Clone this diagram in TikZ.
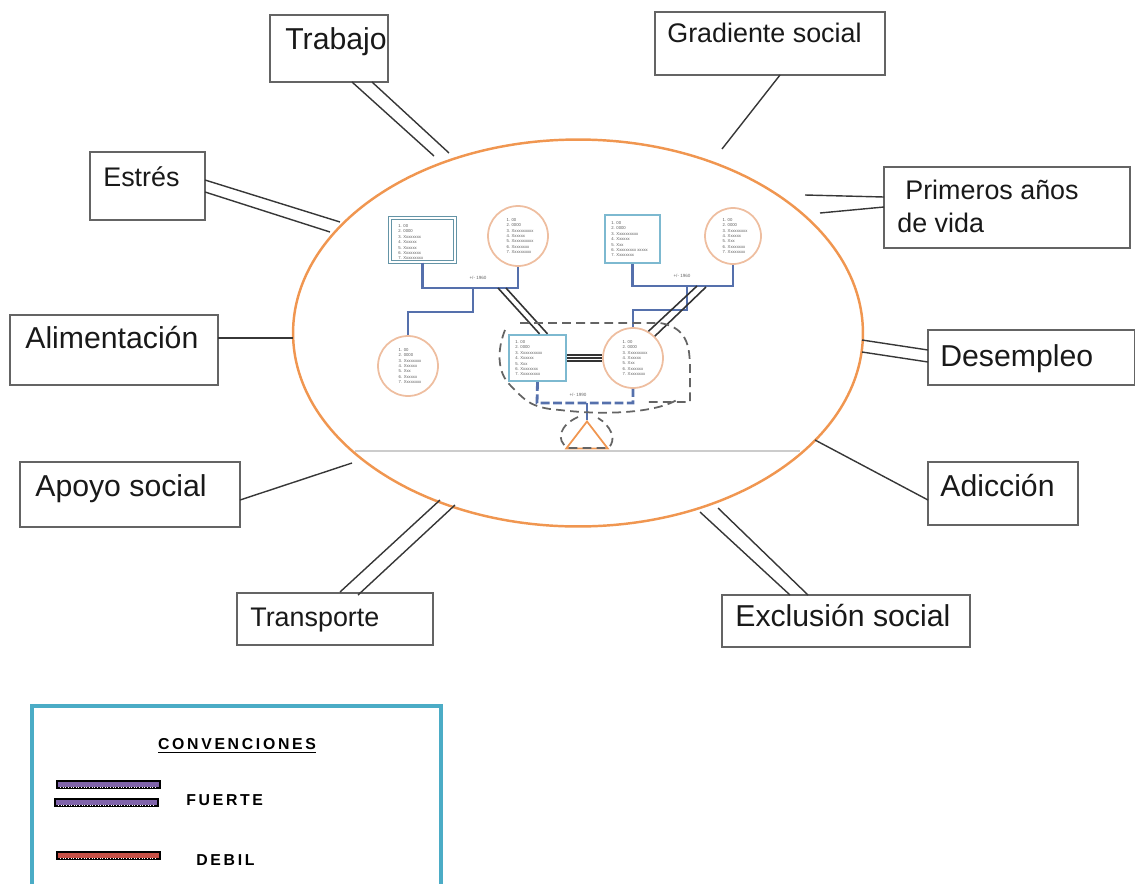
\documentclass[tikz,border=0pt]{standalone}
\usepackage{fontspec}
\setmainfont{Liberation Sans}
\usetikzlibrary{shapes.geometric,fit,calc}
\definecolor{orangeE}{RGB}{240,150,80}
\definecolor{peach}{RGB}{238,190,160}
\definecolor{tealb}{RGB}{125,185,208}
\definecolor{gblue}{RGB}{85,112,172}
\definecolor{lcol}{RGB}{55,55,55}
\definecolor{legb}{RGB}{75,172,198}
\definecolor{purp}{RGB}{128,100,170}
\definecolor{redb}{RGB}{200,80,70}
\definecolor{dgray}{RGB}{100,100,100}
\begin{document}
\begin{tikzpicture}[x=0.02cm,y=-0.02cm,
  box/.style={draw=dgray,line width=0.8pt,inner sep=0pt},
  big/.style={font=\fontsize{17.2}{20}\selectfont,inner sep=0pt,anchor=base west,text=black!90},
  med/.style={font=\fontsize{15.3}{18}\selectfont,inner sep=0pt,anchor=base west,text=black!90},
  conn/.style={draw=lcol,line width=0.8pt},
  pers/.style={circle,draw=peach,line width=1pt,minimum size=1.2cm,inner sep=0pt},
  sq/.style={draw=tealb,line width=1.3pt,inner sep=0pt},
  lst/.style={font=\fontsize{2.4}{3.1}\selectfont,align=left,text=black!65,inner sep=0pt},
  gl/.style={draw=gblue,line width=1.2pt},
  rel/.style={draw=black!80,line width=0.9pt},
  dsh/.style={draw=dgray,line width=1pt,dash pattern=on 5pt off 3pt},
  tiny/.style={font=\fontsize{2.6}{3}\selectfont,text=black!60,inner sep=0pt},
  leg/.style={font=\fontsize{9}{11}\selectfont\bfseries\addfontfeature{LetterSpace=17},inner sep=0pt}
]
\useasboundingbox (0,0) rectangle (1135,883);

% ---------------- outer boxes ----------------
\node[box,fit={(270,15)(388,82)}] (trab) {};
\node[big] (trabT) at (285,49) {Trabajo};
\node[box,fit={(655,12)(885,75)}] (grad) {};
\node[med] (gradT) at (667,42) {Gradiente social};
\node[box,fit={(90,152)(205,220)}] (estr) {};
\node[med] (estrT) at (103,186) {Estrés};
\node[box,fit={(884,167)(1130,248)}] (prim) {};
\node[med] (primT) at (905,199) {Primeros años};
\node[med] (primT2) at (897,232) {de vida};
\node[box,fit={(10,315)(218,385)}] (alim) {};
\node[big] (alimT) at (25,348) {Alimentación};
\node[box,fit={(928,330)(1135,385)}] (dese) {};
\node[big] (deseT) at (940,366) {Desempleo};
\node[box,fit={(20,462)(240,527)}] (apoy) {};
\node[big] (apoyT) at (35,496) {Apoyo social};
\node[box,fit={(928,462)(1078,525)}] (adic) {};
\node[big] (adicT) at (940,496) {Adicción};
\node[box,fit={(237,593)(433,645)}] (tran) {};
\node[med] (tranT) at (250,626) {Transporte};
\node[box,fit={(722,595)(970,647)}] (excl) {};
\node[big] (exclT) at (735,626) {Exclusión social};

% ---------------- ellipse ----------------
\node[ellipse,draw=orangeE,line width=1.4pt,minimum width=11.4cm,minimum height=7.74cm,inner sep=0pt] (E) at (578,333) {};
\draw[draw=black!20,line width=0.6pt] (355,451) -- (800,451);

% ---------------- connectors ----------------
\coordinate (ta1) at (352,82); \coordinate (tb1) at (434,156);
\coordinate (ta2) at (372,82); \coordinate (tb2) at (449,153);
\draw[conn] (ta1) -- (tb1); \draw[conn] (ta2) -- (tb2);
\coordinate (ga) at (780,75); \coordinate (gb) at (722,149);
\draw[conn] (ga) -- (gb);
\coordinate (ea1) at (205,180); \coordinate (eb1) at (340,222);
\coordinate (ea2) at (205,192); \coordinate (eb2) at (330,232);
\draw[conn] (ea1) -- (eb1); \draw[conn] (ea2) -- (eb2);
\coordinate (pa1) at (884,197); \coordinate (pb1) at (805,195);
\coordinate (pa2) at (884,207); \coordinate (pb2) at (820,213);
\draw[conn] (pa1) -- (pb1); \draw[conn] (pa2) -- (pb2);
\coordinate (aa) at (218,338); \coordinate (ab) at (293,338);
\draw[conn] (aa) -- (ab);
\coordinate (da1) at (928,350); \coordinate (db1) at (862,340);
\coordinate (da2) at (928,362); \coordinate (db2) at (862,352);
\draw[conn] (da1) -- (db1); \draw[conn] (da2) -- (db2);
\coordinate (sa) at (240,500); \coordinate (sb) at (352,463);
\draw[conn] (sa) -- (sb);
\coordinate (ca) at (928,500); \coordinate (cb) at (815,440);
\draw[conn] (ca) -- (cb);
\coordinate (ra1) at (340,592); \coordinate (rb1) at (440,500);
\coordinate (ra2) at (358,595); \coordinate (rb2) at (455,505);
\draw[conn] (ra1) -- (rb1); \draw[conn] (ra2) -- (rb2);
\coordinate (xa1) at (790,595); \coordinate (xb1) at (700,512);
\coordinate (xa2) at (808,595); \coordinate (xb2) at (718,508);
\draw[conn] (xa1) -- (xb1); \draw[conn] (xa2) -- (xb2);

% ---------------- genogram ----------------
\node[sq,fit={(390,218)(455,262)},draw=tealb!80!black,double=white,double distance=0.6pt,line width=0.7pt] (sqA) {};
\node[lst,anchor=north west] (sqAt) at (398,224) {1. 00\\2. 0000\\3. Xxxxxxxx\\4. Xxxxxx\\5. Xxxxxx\\6. Xxxxxxxx\\7. Xxxxxxxxx};
\node[pers] (ciB) at (518,236) {};
\node[lst] (ciBt) at (520,236) {1. 00\\2. 0000\\3. Xxxxxxxxxx\\4. Xxxxxx\\5. Xxxxxxxxxx\\6. Xxxxxxxx\\7. Xxxxxxxxx};
\node[sq,fit={(605,215)(660,263)}] (sqC) {};
\node[lst,anchor=north west] (sqCt) at (611,221) {1. 00\\2. 0000\\3. Xxxxxxxxxx\\4. Xxxxxx\\5. Xxx\\6. Xxxxxxxxx xxxxx\\7. Xxxxxxxx};
\node[pers,minimum size=1.12cm] (ciD) at (733,236) {};
\node[lst] (ciDt) at (735,236) {1. 00\\2. 0000\\3. Xxxxxxxxx\\4. Xxxxxx\\5. Xxx\\6. Xxxxxxxx\\7. Xxxxxxxx};
\node[pers] (ciE) at (408,366) {};
\node[lst] (ciEt) at (410,366) {1. 00\\2. 0000\\3. Xxxxxxxx\\4. Xxxxxx\\5. Xxx\\6. Xxxxxx\\7. Xxxxxxxx};
\node[sq,fit={(509,335)(566,381)}] (sqF) {};
\node[lst,anchor=north west] (sqFt) at (515,340) {1. 00\\2. 0000\\3. Xxxxxxxxxx\\4. Xxxxxx\\5. Xxx\\6. Xxxxxxxx\\7. Xxxxxxxxx};
\node[pers] (ciG) at (633,358) {};
\node[lst] (ciGt) at (635,358) {1. 00\\2. 0000\\3. Xxxxxxxxx\\4. Xxxxxx\\5. Xxx\\6. Xxxxxxx\\7. Xxxxxxxx};
\node[isosceles triangle,isosceles triangle apex angle=75,shape border rotate=90,draw=orangeE,line width=1pt,minimum height=0.54cm,inner sep=0pt,anchor=apex] (tri) at (587,420) {};

% couple lines
\draw[gl] (sqA.south) -- ++(0,25) -| (ciB.south);
\draw[gl] (473,287) -- (473,312) -| (ciE.north);
\node[tiny] (lb1) at (478,278) {+/- 1960};
\draw[gl] (sqC.south) -- ++(0,22) -| (ciD.south);
\draw[gl] (687,285) -- (687,310) -| (ciG.north);
\node[tiny] (lb2) at (682,276) {+/- 1960};
% strong relations
\draw[rel] (498,288) -- ($(sqF.north)+(2,0)$);
\draw[rel] (506,288) -- ($(sqF.north)+(10,0)$);
\draw[rel] (697,286) -- (ciG.60);
\draw[rel] (706,287) -- (ciG.45);
\draw[rel] ($(sqF.east)+(0,-3)$) -- ($(ciG.west)+(0,-3)$);
\draw[rel] (sqF.east) -- (ciG.west);
\draw[rel] ($(sqF.east)+(0,3)$) -- ($(ciG.west)+(0,3)$);
% household / child
\draw[gl,dash pattern=on 5pt off 2pt,line width=1.6pt] (sqF.south) -- (537,403) -- (633,403) -- (ciG.south);
\node[tiny] (lb3) at (578,395) {+/- 1990};
\draw[gl] (587,403) -- (tri.apex);
% dashed boundaries
\draw[dsh] (520,323) -- (660,323) .. controls (690,328) and (690,350) .. (690,375) -- (690,402) -- (645,402);
\draw[dsh] (505,330) .. controls (497,350) and (497,372) .. (510,385) .. controls (525,400) and (530,408) .. (560,410) .. controls (610,416) and (660,412) .. (680,398);
\draw[dsh] (578,417) .. controls (560,425) and (555,440) .. (568,448) -- (608,448) .. controls (618,440) and (610,425) .. (598,418);

% ---------------- legend ----------------
\draw[draw=legb,line width=2.8pt] (32,930) -- (32,706) -- (441,706) -- (441,930);
\node[leg] (convT) at (237,746) {\underline{CONVENCIONES}};
\node[leg,anchor=west] (fuT) at (186,800) {FUERTE};
\node[leg,anchor=west] (deT) at (196,860) {DEBIL};
\draw[draw=black,line width=1.6pt,fill=purp] (57,781) rectangle (160,788);
\draw[white,line width=0.3pt,dash pattern=on 0.5pt off 1pt] (60,787) -- (157,787);
\draw[draw=black,line width=1.6pt,fill=purp] (55,799) rectangle (158,806);
\draw[white,line width=0.3pt,dash pattern=on 0.5pt off 1pt] (58,805) -- (155,805);
\draw[draw=black,line width=1.6pt,fill=redb] (57,852) rectangle (160,859);
\draw[white,line width=0.3pt,dash pattern=on 0.5pt off 1pt] (60,858) -- (157,858);
\end{tikzpicture}
\end{document}
